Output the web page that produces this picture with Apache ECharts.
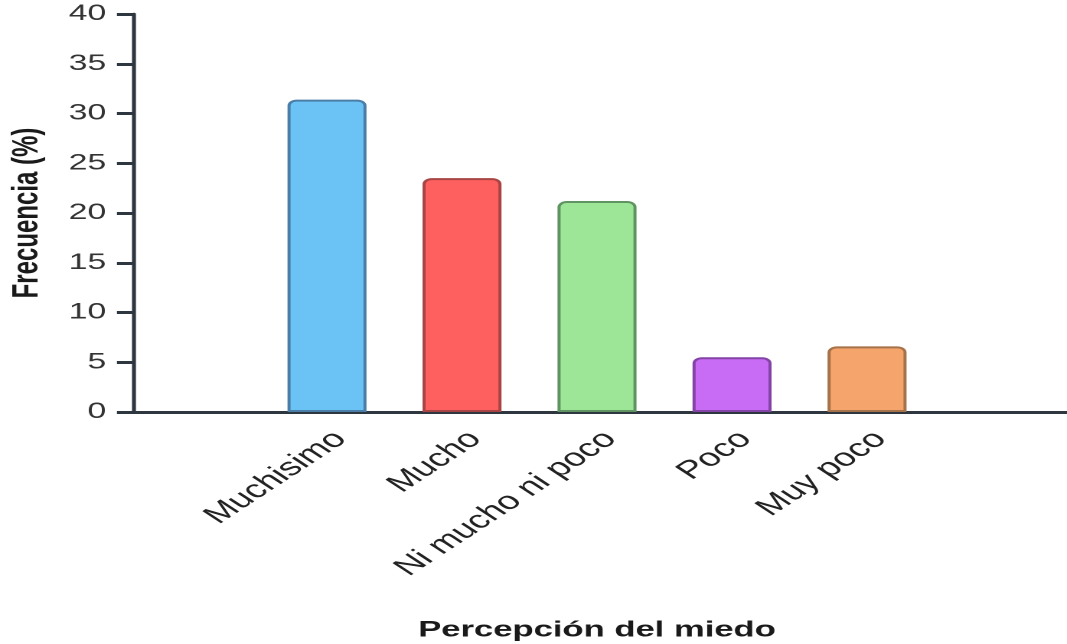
<!DOCTYPE html>
<html>
<head>
<meta charset="utf-8">
<script src="https://cdn.jsdelivr.net/npm/echarts@6/dist/echarts.min.js"></script>
<style>
html,body{margin:0;padding:0;background:#fff;overflow:hidden;}
#wrap{width:1067px;height:644px;overflow:hidden;}
#chart{width:697px;height:644px;transform:scaleX(1.5308);transform-origin:0 0;}
</style>
</head>
<body>
<div id="wrap"><div id="chart"></div></div>
<script>
const categories = ['Muchisimo', 'Mucho', 'Ni mucho ni poco', 'Poco', 'Muy poco'];
const values = [31.4, 23.5, 21.2, 5.5, 6.6];
const fillColors = ['#6bc3f5', '#fe5f5f', '#9de597', '#c86bf5', '#f5a56b'];
const borderColors = ['#4a7ea6', '#a84444', '#5f9462', '#8444a6', '#a6724a'];
const yMin = 0, yMax = 40, yStep = 5;
const xTitle = 'Percepción del miedo';
const yTitle = 'Frecuencia (%)';

const font = 'Liberation Sans, Arial, sans-serif';
const axisColor = '#2e3640';

const chart = echarts.init(document.getElementById('chart'), null, {renderer: 'canvas', devicePixelRatio: 2});
chart.setOption({
  animation: false,
  backgroundColor: '#ffffff',
  grid: [
    {left: 86.9, right: 0.5, top: 14, bottom: 232, containLabel: false, outerBoundsMode: 'none'},
    {left: 169.5, width: 441, top: 14, bottom: 232, containLabel: false, outerBoundsMode: 'none'}
  ],
  xAxis: [
    {
      gridIndex: 0, type: 'category', data: [''],
      axisLine: {show: true, lineStyle: {color: axisColor, width: 3}},
      axisTick: {show: false}, axisLabel: {show: false}, splitLine: {show: false}
    },
    {
      gridIndex: 1, type: 'category', data: categories,
      axisLine: {show: false}, axisTick: {show: false},
      axisLabel: {
        rotate: 45, margin: 14.5, interval: 0, verticalAlign: 'top',
        fontFamily: font, fontSize: 25, color: '#222'
      },
      name: xTitle, nameLocation: 'middle', nameGap: 207, nameMoveOverlap: false,
      nameTextStyle: {fontFamily: font, fontSize: 22.6, fontWeight: 'bold', color: '#1a1a1a'}
    }
  ],
  yAxis: [
    {
      gridIndex: 0, type: 'value', min: yMin, max: yMax, interval: yStep,
      axisLine: {show: true, lineStyle: {color: axisColor, width: 2.6}},
      axisTick: {show: true, length: 10.5, lineStyle: {color: axisColor, width: 3}},
      axisLabel: {margin: 17.5, fontFamily: font, fontSize: 22, color: '#333'},
      splitLine: {show: false},
      name: yTitle, nameLocation: 'middle', nameGap: 57, nameMoveOverlap: false,
      nameTextStyle: {fontFamily: font, fontSize: 24, fontWeight: 'bold', color: '#1a1a1a'}
    },
    {
      gridIndex: 1, type: 'value', min: yMin, max: yMax, interval: yStep, show: false
    }
  ],
  series: [{
    type: 'bar',
    xAxisIndex: 1, yAxisIndex: 1,
    barWidth: 51.6,
    data: values.map((v, i) => ({
      value: v,
      itemStyle: {color: fillColors[i], borderColor: borderColors[i], borderWidth: 2, borderRadius: [5, 5, 0, 0]}
    }))
  }]
});
</script>
</body>
</html>
